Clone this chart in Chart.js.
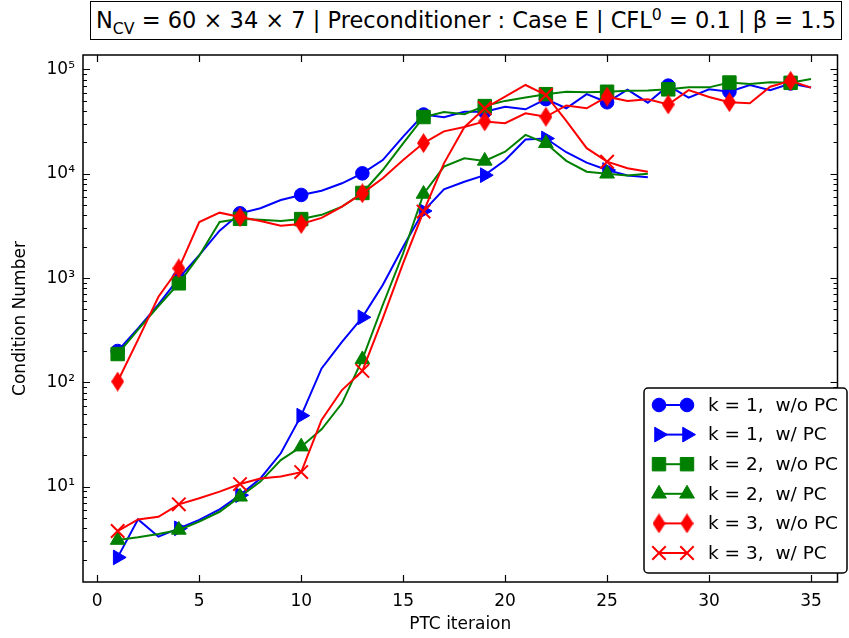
<!DOCTYPE html>
<html>
<head>
<meta charset="utf-8">
<script src="https://cdn.jsdelivr.net/npm/chart.js@4.4.1/dist/chart.umd.min.js"></script>
<style>
    html, body { margin: 0; padding: 0; background: #fff; }
    #wrap { position: relative; width: 849px; height: 638px; }
    #title {
        position: absolute; left: 90px; top: 1px; width: 750px; height: 37px;
        border: 1.5px solid #000; background: #fff;
        font-family: 'DejaVu Sans'; font-size: 22.5px; line-height: 37px;
        text-align: center; white-space: nowrap; color: #000;
    }
    #title sub, #title sup { font-size: 70%; line-height: 0; }
    canvas { position: absolute; left: 0; top: 0; }
</style>
</head>
<body>
<div id="wrap">
    <canvas id="chart" width="849" height="638"></canvas>
    <div id="title">N<sub>CV</sub> = 60 × 34 × 7 | Preconditioner : Case E | CFL<sup>0</sup> = 0.1 | β = 1.5</div>
</div>
<script>
// ── Data ───────────────────────────────────────────────────
const itersLong  = [1,2,3,4,5,6,7,8,9,10,11,12,13,14,15,16,17,18,19,20,21,22,23,24,25,26,27,28,29,30,31,32,33,34,35];
const itersShort = [1,2,3,4,5,6,7,8,9,10,11,12,13,14,15,16,17,18,19,20,21,22,23,24,25,26,27];

const k1NoPC = [200,330,560,1000,1660,2850,4180,4670,5610,6270,6890,8110,10100,13550,22700,37000,34800,39400,39400,44000,41500,52000,42500,58000,48500,64000,48100,70000,53700,64500,61200,71000,63200,73500,67200];
const k1PC   = [2.1,4.86,3.32,3.99,4.8,6.07,8.3,12,20.9,48,136,245,421,859,2000,4400,7100,8400,9700,13500,21300,21800,16100,12800,10870,9650,9270];
const k2NoPC = [187,320,540,891,1640,3450,3700,3630,3530,3680,4040,4840,6550,10870,19600,35000,39100,37200,44600,50000,54000,58000,61200,60400,61200,62500,63000,64500,67400,67400,75000,72600,75400,74500,81100];
const k2PC   = [3.08,3.27,3.52,3.85,4.62,5.75,8.0,11.2,18.0,24.2,35.5,63,166,552,1730,6400,11700,14100,13300,16300,23600,19600,13300,10470,10000,9650,10000];
const k3NoPC = [102,257,663,1240,3450,4240,3850,3530,3170,3300,3780,4840,6500,9060,13550,19700,25500,28100,31800,30600,38000,35200,45200,42500,54900,49900,51800,46200,63500,54500,48600,47400,68400,77800,67000];
const k3PC   = [3.76,4.86,5.15,6.78,7.74,8.96,10.6,12.0,12.5,13.8,43.6,84.5,129,412,1390,4340,12600,28000,42500,54900,71000,57000,32200,17600,13060,11300,10470];

const seriesLabels = ['k = 1,  w/o PC', 'k = 1,  w/ PC', 'k = 2,  w/o PC', 'k = 2,  w/ PC', 'k = 3,  w/o PC', 'k = 3,  w/ PC'];
const xTickValues = [0, 5, 10, 15, 20, 25, 30, 35];
const yDecades = [1, 10, 100, 1000, 10000, 100000];

const BLUE = '#0000ff', GREEN = '#008000', RED = '#ff0000';
const FONT = 'DejaVu Sans';

// thin diamond marker (matplotlib 'd')
function makeDiamond(w, h, color) {
    const c = document.createElement('canvas');
    c.width = w; c.height = h;
    const g = c.getContext('2d');
    g.fillStyle = color;
    g.beginPath();
    g.moveTo(w / 2, 0); g.lineTo(w, h / 2); g.lineTo(w / 2, h); g.lineTo(0, h / 2);
    g.closePath(); g.fill();
    return c;
}
const diamond = makeDiamond(13, 20, RED);

const markers = [
    { pointStyle: 'circle',   radius: 6.8, rotation: 0,  bw: 1, color: BLUE },
    { pointStyle: 'triangle', radius: 8.5, rotation: 90, bw: 1, color: BLUE },
    { pointStyle: 'rect',     radius: 9.5, rotation: 0,  bw: 1, color: GREEN },
    { pointStyle: 'triangle', radius: 8.5, rotation: 0,  bw: 1, color: GREEN },
    { pointStyle: diamond,    radius: 8,   rotation: 0,  bw: 0, color: RED },
    { pointStyle: 'crossRot', radius: 9.5, rotation: 0,  bw: 2, color: RED }
];

const allSeries = [
    [itersLong, k1NoPC], [itersShort, k1PC],
    [itersLong, k2NoPC], [itersShort, k2PC],
    [itersLong, k3NoPC], [itersShort, k3PC]
];

const datasets = allSeries.map(([xs, ys], i) => {
    const m = markers[i];
    return {
        label: seriesLabels[i],
        data: xs.map((x, j) => ({ x: x, y: ys[j] })),
        borderColor: m.color,
        backgroundColor: m.color,
        borderWidth: 2,
        tension: 0,
        pointStyle: m.pointStyle,
        pointRotation: m.rotation,
        pointRadius: ctx => (ctx.dataIndex % 3 === 0 ? m.radius : 0),
        pointBorderWidth: m.bw,
        pointBorderColor: m.color,
        pointBackgroundColor: m.color,
        order: 6 - i
    };
});

const SUP = { '0': '⁰', '1': '¹', '2': '²', '3': '³', '4': '⁴', '5': '⁵' };

// inward ticks on all four spines + frame
const frameTicks = {
    id: 'frameTicks',
    afterDatasetsDraw(chart) {
        const { ctx, chartArea: a, scales: { x, y } } = chart;
        ctx.save();
        ctx.strokeStyle = '#000';
        ctx.lineWidth = 1.2;
        ctx.beginPath();
        xTickValues.forEach(v => {
            const px = Math.round(x.getPixelForValue(v)) + 0.5;
            ctx.moveTo(px, a.bottom); ctx.lineTo(px, a.bottom - 7);
            ctx.moveTo(px, a.top); ctx.lineTo(px, a.top + 7);
        });
        const yMin = y.min, yMax = y.max;
        yDecades.forEach(d => {
            for (let k = 1; k <= 9; k++) {
                const v = d * k;
                if (v < yMin || v > yMax) continue;
                const py = Math.round(y.getPixelForValue(v)) + 0.5;
                const len = k === 1 ? 7 : 4;
                ctx.moveTo(a.left, py); ctx.lineTo(a.left + len, py);
                ctx.moveTo(a.right, py); ctx.lineTo(a.right - len, py);
            }
        });
        ctx.stroke();
        ctx.lineWidth = 1.5;
        ctx.strokeRect(a.left, a.top, a.right - a.left, a.bottom - a.top);
        ctx.restore();
    }
};

// matplotlib-like legend: line with a marker at each end
const lineLegend = {
    id: 'lineLegend',
    afterDraw(chart) {
        const ctx = chart.ctx;
        const bx = 644, by = 388, bw = 203, bh = 185, r = 4;
        ctx.save();
        ctx.beginPath();
        ctx.moveTo(bx + r, by);
        ctx.arcTo(bx + bw, by, bx + bw, by + bh, r);
        ctx.arcTo(bx + bw, by + bh, bx, by + bh, r);
        ctx.arcTo(bx, by + bh, bx, by, r);
        ctx.arcTo(bx, by, bx + bw, by, r);
        ctx.closePath();
        ctx.fillStyle = '#fff';
        ctx.fill();
        ctx.strokeStyle = '#000';
        ctx.lineWidth = 1.5;
        ctx.stroke();

        seriesLabels.forEach((lab, i) => {
            const m = markers[i];
            const yy = 405 + i * 29.6;
            const x1 = 659, x2 = 687;
            ctx.strokeStyle = m.color;
            ctx.lineWidth = 2;
            ctx.beginPath();
            ctx.moveTo(x1, yy); ctx.lineTo(x2, yy);
            ctx.stroke();
            [x1, x2].forEach(px => {
                ctx.fillStyle = m.color;
                ctx.strokeStyle = m.color;
                ctx.lineWidth = m.bw;
                Chart.helpers.drawPoint(ctx, {
                    pointStyle: m.pointStyle, radius: m.radius,
                    rotation: m.rotation, borderWidth: m.bw
                }, px, yy);
            });
            ctx.fillStyle = '#000';
            ctx.font = '18.5px "' + FONT + '"';
            ctx.textBaseline = 'middle';
            ctx.textAlign = 'left';
            ctx.fillText(lab, 708, yy + 1);
        });
        ctx.restore();
    }
};

new Chart(document.getElementById('chart'), {
    type: 'line',
    data: { datasets: datasets },
    options: {
        responsive: false,
        animation: false,
        events: [],
        devicePixelRatio: 1,
        layout: { padding: { top: 55, right: 1, left: 0, bottom: 0 } },
        plugins: { legend: { display: false }, tooltip: { enabled: false } },
        scales: {
            x: {
                type: 'linear',
                min: -0.7,
                max: 36.3,
                grid: { display: false, drawTicks: false },
                border: { display: false },
                afterFit: s => { s.height = 56; },
                ticks: {
                    stepSize: 5,
                    includeBounds: false,
                    padding: 9,
                    color: '#000',
                    font: { family: FONT, size: 17 },
                    callback: v => (v % 5 === 0 ? String(v) : '')
                },
                title: {
                    display: true, text: 'PTC iteraion', color: '#000',
                    font: { family: FONT, size: 17 }, padding: { top: 0, bottom: 3 }
                }
            },
            y: {
                type: 'logarithmic',
                min: 1.22,
                max: 137700,
                grid: { display: false, drawTicks: false },
                border: { display: false },
                afterFit: s => { s.width = 83; },
                afterBuildTicks: s => {
                    s.ticks = yDecades.filter(v => v >= s.min && v <= s.max).map(v => ({ value: v }));
                },
                ticks: {
                    autoSkip: false,
                    padding: 8,
                    color: '#000',
                    font: { family: FONT, size: 17 },
                    callback: v => {
                        const e = Math.round(Math.log10(v));
                        return Math.abs(Math.log10(v) - e) < 1e-9 ? '10' + SUP[String(e)] : '';
                    }
                },
                title: {
                    display: true, text: 'Condition Number', color: '#000',
                    font: { family: FONT, size: 17 }, padding: { top: 10, bottom: 0 }
                }
            }
        }
    },
    plugins: [frameTicks, lineLegend]
});
</script>
</body>
</html>
